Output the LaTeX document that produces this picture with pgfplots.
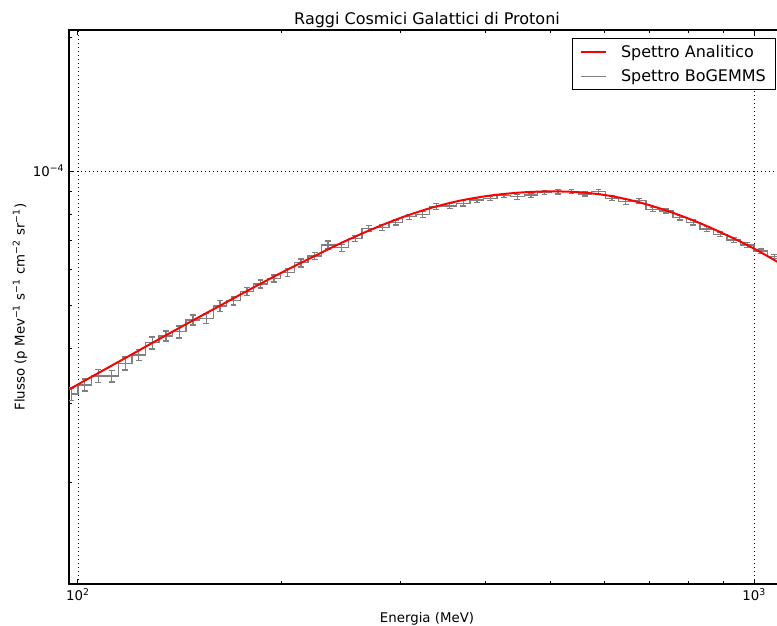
\documentclass[border=0pt]{standalone}
\usepackage{fontspec}
\setmainfont{DejaVu Sans}
\usepackage{pgfplots}
\pgfplotsset{compat=1.18}
\usepackage{pgfplotstable}

\pgfplotstableread{
E F err
97.72 3.154e-5 0.98e-6
102.33 3.305e-5 1.03e-6
107.15 3.462e-5 1.16e-6
112.20 3.462e-5 1.07e-6
117.49 3.697e-5 1.24e-6
123.03 3.859e-5 1.10e-6
128.82 4.113e-5 1.28e-6
134.90 4.258e-5 1.10e-6
141.25 4.354e-5 1.35e-6
147.91 4.626e-5 1.20e-6
154.88 4.667e-5 1.21e-6
162.18 4.972e-5 1.41e-6
169.82 5.110e-5 1.06e-6
177.83 5.356e-5 1.11e-6
186.21 5.574e-5 1.15e-6
194.98 5.741e-5 1.04e-6
204.17 5.910e-5 1.22e-6
213.80 6.221e-5 1.29e-6
223.87 6.441e-5 1.17e-6
234.42 6.821e-5 1.41e-6
245.47 6.726e-5 1.22e-6
257.04 7.062e-5 1.10e-6
269.15 7.436e-5 1.15e-6
281.84 7.460e-5 1.16e-6
295.12 7.671e-5 0.99e-6
309.03 7.897e-5 1.02e-6
323.59 7.995e-5 1.24e-6
338.84 8.315e-5 1.29e-6
354.81 8.343e-5 1.16e-6
371.54 8.460e-5 1.18e-6
389.05 8.606e-5 1.11e-6
407.38 8.682e-5 0.99e-6
426.58 8.800e-5 0.91e-6
446.68 8.755e-5 1.13e-6
467.74 8.834e-5 1.00e-6
489.78 8.955e-5 1.02e-6
512.86 8.984e-5 1.02e-6
537.03 8.984e-5 0.93e-6
562.34 8.878e-5 0.92e-6
588.84 8.984e-5 1.02e-6
616.60 8.682e-5 1.03e-6
645.65 8.531e-5 1.10e-6
676.08 8.576e-5 1.11e-6
707.95 8.202e-5 0.93e-6
741.31 8.130e-5 0.84e-6
776.25 7.855e-5 0.89e-6
812.83 7.671e-5 0.99e-6
851.14 7.409e-5 0.96e-6
891.25 7.210e-5 0.93e-6
933.25 6.998e-5 0.83e-6
977.24 6.821e-5 0.81e-6
1023.29 6.611e-5 0.75e-6
1071.52 6.418e-5 0.66e-6
1122.02 6.180e-5 0.64e-6
}\hist

\pgfplotstableread{
E F
97.0 3.230e-5
107.8 3.534e-5
119.4 3.853e-5
132.2 4.201e-5
146.4 4.578e-5
162.2 4.983e-5
179.7 5.423e-5
199.0 5.888e-5
220.4 6.368e-5
244.1 6.873e-5
270.4 7.369e-5
299.5 7.842e-5
331.7 8.253e-5
367.4 8.581e-5
406.9 8.809e-5
450.7 8.948e-5
499.2 9.003e-5
552.9 8.961e-5
612.4 8.796e-5
678.2 8.499e-5
751.2 8.100e-5
832.0 7.637e-5
921.5 7.122e-5
1000 6.695e-5
1081.5 6.260e-5
1130.8 6.013e-5
}\analytic

\begin{document}
\begin{tikzpicture}
\begin{axis}[
  name=ax,
  xmode=log, ymode=log,
  scale only axis,
  width=537pt, height=415.5pt,
  xmin=97.0, xmax=1111.2,
  ymin=1.180e-5, ymax=2.075e-4,
  xtick={100,1000}, xticklabels={10\textsuperscript{2},10\textsuperscript{3}},
  ytick={1e-4}, yticklabels={10\textsuperscript{−4}},
  minor xtick={200,300,400,500,600,700,800,900},
  minor ytick={2e-5,3e-5,4e-5,5e-5,6e-5,7e-5,8e-5,9e-5,2e-4},
  tick align=inside,
  major tick length=4pt, minor tick length=2pt,
  tick style={black, line width=0.75pt},
  axis line style={line width=1pt},
  grid=major,
  major grid style={black, line width=0.5pt, dash pattern=on 0.75pt off 2.25pt},
  title={Raggi Cosmici Galattici di Protoni},
  title style={font=\fontsize{12}{14}\selectfont, yshift=-8pt},
  xlabel={Energia (MeV)},
  xlabel style={yshift=-2pt},
  ylabel={Flusso (p Mev\textsuperscript{−1} s\textsuperscript{−1} cm\textsuperscript{−2} sr\textsuperscript{−1})},
  ylabel style={at={(axis description cs:-0.0684,0.5)}, anchor=center},
  label style={font=\fontsize{10}{12}\selectfont},
  tick label style={font=\fontsize{10}{12}\selectfont},
  legend style={at={(1,1)}, anchor=north east, xshift=-6.5pt, yshift=-6pt,
    draw=black, line width=0.75pt, font=\fontsize{12}{14}\selectfont,
    inner xsep=5.5pt, inner ysep=3pt, row sep=3.5pt},
  legend cell align=left,
  legend image code/.code={\draw[#1] (0pt,0pt) -- (19pt,0pt); \path (27.5pt,0pt);},
]
\addplot[gray, line width=1pt, const plot mark mid, mark=none, forget plot,
  error bars/.cd, y dir=both, y explicit,
  error bar style={gray, line width=1pt},
  error mark options={gray, line width=1pt, mark size=2.2pt, rotate=90}]
  table[x=E, y=F, y error=err] {\hist};
\addplot[red, line width=1.5pt, smooth, mark=none] table[x=E, y=F] {\analytic};
\addlegendentry{Spettro Analitico}
\addlegendimage{gray, line width=1pt}
\addlegendentry{Spettro BoGEMMS}
\end{axis}
\pgfresetboundingbox
\path[use as bounding box] ([shift={(-51.75pt,-30.75pt)}]ax.south west) rectangle ([shift={(531pt,438pt)}]ax.south west);
\end{tikzpicture}
\end{document}
